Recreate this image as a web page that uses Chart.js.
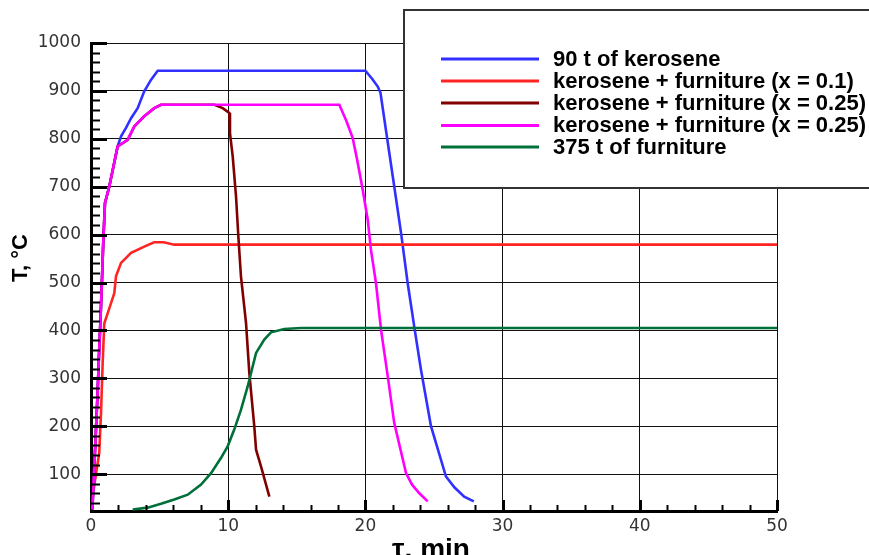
<!DOCTYPE html>
<html>
<head>
<meta charset="utf-8">
<script src="https://cdn.jsdelivr.net/npm/chart.js@4/dist/chart.umd.min.js"></script>
<style>
  html, body { margin: 0; padding: 0; background: #fff; overflow: hidden; }
  canvas { display: block; }
</style>
</head>
<body>
<canvas id="chart" width="869" height="555"></canvas>
<script>
// Fire temperature histories, T (°C) against time τ (min)
const seriesLabels = [
  '90 t of kerosene',
  'kerosene + furniture (x = 0.1)',
  'kerosene + furniture (x = 0.25)',
  'kerosene + furniture (x = 0.25)',
  '375 t of furniture'
];
const seriesColors = ['#3030ff', '#ff2424', '#800000', '#ff00ff', '#00703a'];

const keroseneTime = [0.1, 0.22, 0.34, 0.47, 0.58, 0.7, 0.8, 0.9, 1.02, 1.33, 1.94, 2.19, 2.55, 2.92, 3.4, 3.88, 4.37, 4.86,
  20.0, 20.5, 20.9, 21.1, 21.6, 22.1, 22.6, 23.08, 23.56, 24.05, 24.78, 25.87, 26.5, 27.2, 27.9];
const keroseneTemp = [26, 102, 179, 262, 346, 429, 506, 589, 666, 700, 784, 805, 823, 843, 864, 899, 923, 942,
  942, 925, 909, 896, 798, 701, 603, 499, 408, 318, 200, 95, 72, 53, 43];

const mix10Time = [0.2, 0.6, 0.73, 0.85, 0.97, 1.22, 1.7, 1.82, 2.19, 2.92, 3.88, 4.6, 5.3, 6.07, 50];
const mix10Temp = [70, 144, 227, 332, 415, 436, 478, 513, 541, 562, 575, 584, 584, 579, 579];

const mix25aTime = [0.1, 0.22, 0.34, 0.47, 0.58, 0.7, 0.8, 0.9, 1.02, 1.33, 1.94, 2.67, 3.16, 3.88, 4.61, 5.1,
  9.0, 9.6, 10.08, 10.13, 10.33, 10.57, 10.74, 10.93, 11.3, 11.54, 11.9, 12.03, 12.39, 13.0];
const mix25aTemp = [26, 102, 179, 262, 346, 429, 506, 589, 666, 700, 784, 798, 826, 847, 864, 871,
  871, 864, 854, 812, 763, 680, 596, 513, 415, 311, 200, 151, 116, 53];

const mix25bTime = [0.1, 0.22, 0.34, 0.47, 0.58, 0.7, 0.8, 0.9, 1.02, 1.33, 1.94, 2.67, 3.16, 3.88, 4.61, 5.1,
  18.1, 18.6, 19.07, 19.4, 19.8, 20.17, 20.4, 20.77, 21.14, 21.63, 22.1, 22.96, 23.4, 23.93, 24.54];
const mix25bTemp = [26, 102, 179, 262, 346, 429, 506, 589, 666, 700, 784, 798, 826, 847, 864, 871,
  871, 838, 802, 756, 694, 631, 569, 499, 401, 304, 207, 102, 78, 60, 43];

const furnitureTime = [3.04, 4.13, 5.1, 6.07, 7.05, 8.02, 8.75, 9.48, 9.96, 10.44, 10.93, 11.42, 12.03, 12.63, 13.12, 14.09, 15.3, 50];
const furnitureTemp = [26, 30, 38, 47, 57, 78, 102, 134, 158, 193, 234, 283, 353, 381, 396, 403, 405, 405];

const xTicks = [0, 10, 20, 30, 40, 50];
const yTicks = [100, 200, 300, 400, 500, 600, 700, 800, 900, 1000];

const toPoints = (xs, ys) => xs.map((x, i) => ({ x: x, y: ys[i] }));
const seriesData = [
  toPoints(keroseneTime, keroseneTemp),
  toPoints(mix10Time, mix10Temp),
  toPoints(mix25aTime, mix25aTemp),
  toPoints(mix25bTime, mix25bTemp),
  toPoints(furnitureTime, furnitureTemp)
];

// Inward minor/major tick marks, legend box and axis titles
const decorations = {
  id: 'decorations',
  afterDraw(chart) {
    const ctx = chart.ctx;
    const area = chart.chartArea;
    const xs = chart.scales.x, ys = chart.scales.y;
    ctx.save();
    ctx.strokeStyle = '#000';
    ctx.lineCap = 'butt';

    // y axis ticks
    for (let v = 40; v <= 1000; v += 20) {
      const py = Math.round(ys.getPixelForValue(v)) + 0.5;
      const major = v % 100 === 0;
      ctx.lineWidth = major ? 3 : 2;
      ctx.beginPath();
      ctx.moveTo(area.left, py);
      ctx.lineTo(area.left + (major ? 16 : 9), py);
      ctx.stroke();
    }
    // x axis ticks
    for (let v = 2; v <= 50; v += 2) {
      const px = Math.round(xs.getPixelForValue(v)) + 0.5;
      const major = v % 10 === 0;
      ctx.lineWidth = major ? 3 : 2;
      ctx.beginPath();
      ctx.moveTo(px, area.bottom);
      ctx.lineTo(px, area.bottom - (major ? 11 : 6));
      ctx.stroke();
    }

    // legend box
    ctx.fillStyle = '#fff';
    ctx.fillRect(404, 10, 480, 178);
    ctx.strokeStyle = '#333';
    ctx.lineWidth = 2;
    ctx.strokeRect(404, 10, 480, 178);

    ctx.font = 'bold 22px "Liberation Sans", Arial, sans-serif';
    ctx.textBaseline = 'middle';
    ctx.textAlign = 'left';
    const rows = [59, 81, 103, 125.5, 147];
    chart.data.datasets.forEach((ds, i) => {
      ctx.strokeStyle = ds.borderColor;
      ctx.lineWidth = 3;
      ctx.beginPath();
      ctx.moveTo(441, rows[i]);
      ctx.lineTo(539, rows[i]);
      ctx.stroke();
      ctx.fillStyle = '#000';
      ctx.fillText(ds.label, 553, rows[i] + 0.5);
    });

    // axis titles
    ctx.fillStyle = '#000';
    ctx.font = 'bold 22px "Liberation Sans", Arial, sans-serif';
    ctx.save();
    ctx.translate(27, 258);
    ctx.rotate(-Math.PI / 2);
    ctx.textAlign = 'center';
    ctx.textBaseline = 'alphabetic';
    ctx.fillText('T, °C', 0, 0);
    ctx.restore();

    ctx.font = 'bold 28px "Liberation Sans", Arial, sans-serif';
    ctx.textAlign = 'center';
    ctx.textBaseline = 'alphabetic';
    ctx.fillText('τ, min', 431, 558);
    ctx.restore();
  }
};

const tickFont = { family: '"DejaVu Sans", sans-serif', size: 17 };

new Chart(document.getElementById('chart'), {
  type: 'line',
  data: {
    datasets: seriesData.map((pts, i) => ({
      label: seriesLabels[i],
      data: pts,
      borderColor: seriesColors[i],
      backgroundColor: seriesColors[i],
      borderWidth: 2.6,
      pointRadius: 0,
      tension: 0,
      fill: false,
      order: seriesData.length - i
    }))
  },
  options: {
    responsive: false,
    animation: false,
    devicePixelRatio: 1,
    layout: { padding: { top: 43, right: 92, left: 0, bottom: 0 } },
    plugins: { legend: { display: false }, tooltip: { enabled: false } },
    scales: {
      x: {
        type: 'linear',
        min: 0,
        max: 50,
        afterBuildTicks(scale) { scale.ticks = xTicks.map(v => ({ value: v })); },
        afterFit(scale) { scale.height = 44; },
        grid: { color: '#111', lineWidth: 1, drawTicks: false },
        border: { display: true, color: '#000', width: 3 },
        ticks: { color: '#333', font: tickFont, padding: 5, maxRotation: 0, callback: v => String(v) }
      },
      y: {
        type: 'linear',
        min: 23,
        max: 1000,
        afterBuildTicks(scale) { scale.ticks = yTicks.map(v => ({ value: v })); },
        afterFit(scale) { scale.width = 91; },
        grid: { color: '#111', lineWidth: 1, drawTicks: false },
        border: { display: true, color: '#000', width: 3 },
        ticks: { color: '#333', font: tickFont, padding: 10, callback: v => String(v) }
      }
    }
  },
  plugins: [decorations]
});
</script>
</body>
</html>
